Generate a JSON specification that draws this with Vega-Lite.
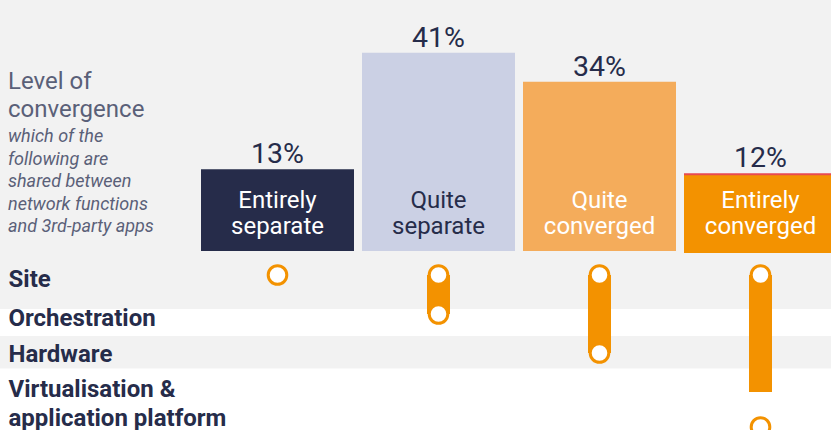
{
  "$schema": "https://vega.github.io/schema/vega-lite/v6.json",
  "width": 831,
  "height": 430,
  "autosize": {"type": "none"},
  "padding": 0,
  "background": "#f2f2f2",
  "config": {"view": {"stroke": null}, "font": "Roboto"},
  "title": {
    "text": ["Level of", "convergence"],
    "subtitle": ["which of the", "following are", "shared between", "network functions", "and 3rd-party apps"],
    "anchor": "start",
    "frame": "group",
    "orient": "top",
    "font": "Roboto",
    "fontSize": 24,
    "fontWeight": "normal",
    "color": "#5a6078",
    "lineHeight": 28.5,
    "subtitleFont": "Roboto",
    "subtitleFontSize": 18,
    "subtitleFontStyle": "italic",
    "subtitleColor": "#5a6078",
    "subtitleLineHeight": 22.5,
    "subtitlePadding": 6,
    "dx": 8,
    "offset": -236
  },
  "datasets": {
    "cols": [
      {"col": "Entirely separate", "share": 0.13, "label": ["Entirely", "separate"]},
      {"col": "Quite separate", "share": 0.41, "label": ["Quite", "separate"]},
      {"col": "Quite converged", "share": 0.34, "label": ["Quite", "converged"]},
      {"col": "Entirely converged", "share": 0.12, "label": ["Entirely", "converged"]}
    ],
    "rows": [
      {"row": "Site"},
      {"row": "Orchestration"},
      {"row": "Hardware"},
      {"row": "Virtualisation & application platform"}
    ],
    "links": [
      {"col": "Quite separate", "row": "Site", "to": "Orchestration"},
      {"col": "Quite converged", "row": "Site", "to": "Hardware"},
      {"col": "Entirely converged", "row": "Site", "to": "Virtualisation & application platform"}
    ],
    "dots": [
      {"col": "Entirely separate", "row": "Site"},
      {"col": "Quite separate", "row": "Site"},
      {"col": "Quite separate", "row": "Orchestration"},
      {"col": "Quite converged", "row": "Site"},
      {"col": "Quite converged", "row": "Hardware"},
      {"col": "Entirely converged", "row": "Site"},
      {"col": "Entirely converged", "row": "Virtualisation & application platform"}
    ]
  },
  "resolve": {"scale": {"y": "independent"}},
  "layer": [
    {
      "encoding": {
        "y": {
          "field": "row",
          "type": "ordinal",
          "scale": {
            "type": "point",
            "domain": ["Site", "Orchestration", "Hardware", "Virtualisation & application platform"],
            "range": [275, 392],
            "padding": 0
          },
          "axis": {
            "orient": "left",
            "offset": -8,
            "title": null,
            "domain": false,
            "ticks": false,
            "tickSize": 0,
            "grid": false,
            "labelPadding": 0,
            "labelAlign": "left",
            "labelBaseline": "middle",
            "labelFont": "Roboto",
            "labelFontSize": 24,
            "labelFontWeight": "bold",
            "labelColor": "#262c4a",
            "labelLimit": 0,
            "labelLineHeight": 29,
            "labelExpr": "datum.label === 'Virtualisation & application platform' ? ['Virtualisation &', 'application platform'] : datum.label",
            "labelOffset": {
              "condition": [
                {"test": "datum.value === 'Virtualisation & application platform'", "value": -2.5},
                {"test": "datum.value === 'Hardware'", "value": 1}
              ],
              "value": 4.5
            },
            "zindex": 2
          }
        }
      },
      "layer": [
        {
          "data": {"name": "rows"},
          "transform": [{"filter": "datum.row === 'Orchestration' || datum.row === 'Virtualisation & application platform'"}],
          "mark": {"type": "rule", "color": "#ffffff", "yOffset": 8.5},
          "encoding": {
            "strokeWidth": {"condition": {"test": "datum.row === 'Orchestration'", "value": 27}, "value": 64}
          }
        },
        {
          "data": {"name": "links"},
          "mark": {"type": "rule", "color": "#f39200", "strokeWidth": 23, "strokeCap": "butt"},
          "encoding": {
            "x": {"field": "col", "type": "nominal", "axis": null,
                  "scale": {"type": "band", "domain": ["Entirely separate", "Quite separate", "Quite converged", "Entirely converged"], "range": [197, 841], "paddingInner": 0.0497, "paddingOuter": 0.02485}},
            "y2": {"field": "to"}
          }
        },
        {
          "data": {"name": "dots"},
          "transform": [{"filter": "datum.row !== 'Virtualisation & application platform'"}],
          "mark": {"type": "point", "shape": "circle", "filled": true, "fill": "#ffffff", "stroke": "#f39200", "strokeWidth": 3, "size": 346, "opacity": 1},
          "encoding": {
            "x": {"field": "col", "type": "nominal", "axis": null,
                  "scale": {"type": "band", "domain": ["Entirely separate", "Quite separate", "Quite converged", "Entirely converged"], "range": [197, 841], "paddingInner": 0.0497, "paddingOuter": 0.02485}}
          }
        },
        {
          "data": {"name": "dots"},
          "transform": [{"filter": "datum.row === 'Virtualisation & application platform'"}],
          "mark": {"type": "point", "shape": "circle", "filled": true, "fill": "#ffffff", "stroke": "#f39200", "strokeWidth": 3, "size": 346, "opacity": 1, "yOffset": 35},
          "encoding": {
            "x": {"field": "col", "type": "nominal", "axis": null,
                  "scale": {"type": "band", "domain": ["Entirely separate", "Quite separate", "Quite converged", "Entirely converged"], "range": [197, 841], "paddingInner": 0.0497, "paddingOuter": 0.02485}}
          }
        }
      ]
    },
    {
      "data": {"name": "cols"},
      "encoding": {
        "x": {"field": "col", "type": "nominal", "axis": null,
              "scale": {"type": "band", "domain": ["Entirely separate", "Quite separate", "Quite converged", "Entirely converged"], "range": [197, 841], "paddingInner": 0.0497, "paddingOuter": 0.02485}},
        "y": {"field": "share", "type": "quantitative", "axis": null,
              "scale": {"domain": [-0.497, 0.5367], "zero": false, "nice": false}}
      },
      "layer": [
        {
          "transform": [{"filter": "datum.col === 'Entirely converged'"}],
          "mark": {"type": "bar", "color": "#e84a4f"},
          "encoding": {"y2": {"datum": -0.0667}}
        },
        {
          "transform": [{"filter": "datum.col !== 'Entirely converged'"}],
          "mark": {"type": "bar"},
          "encoding": {
            "y2": {"datum": -0.0667},
            "color": {"field": "col", "type": "nominal", "legend": null,
                      "scale": {"domain": ["Entirely separate", "Quite separate", "Quite converged"], "range": ["#262c4a", "#cbd0e4", "#f4ac5b"]}}
          }
        },
        {
          "transform": [{"filter": "datum.col === 'Entirely converged'"}],
          "mark": {"type": "bar", "color": "#f39200", "yOffset": 2, "y2Offset": 2},
          "encoding": {"y2": {"datum": -0.0667}}
        },
        {
          "mark": {"type": "text", "baseline": "alphabetic", "align": "center", "dy": -6, "fontSize": 28.5, "font": "Roboto", "color": "#262c4a"},
          "encoding": {"text": {"field": "share", "type": "quantitative", "format": ".0%"}}
        },
        {
          "mark": {"type": "text", "baseline": "alphabetic", "align": "center", "dy": -43, "fontSize": 24, "font": "Roboto", "lineHeight": 25.5},
          "encoding": {
            "y": {"datum": -0.0667},
            "text": {"field": "label"},
            "color": {"condition": {"test": "datum.col === 'Quite separate'", "value": "#262c4a"}, "value": "#ffffff"}
          }
        }
      ]
    }
  ]
}
